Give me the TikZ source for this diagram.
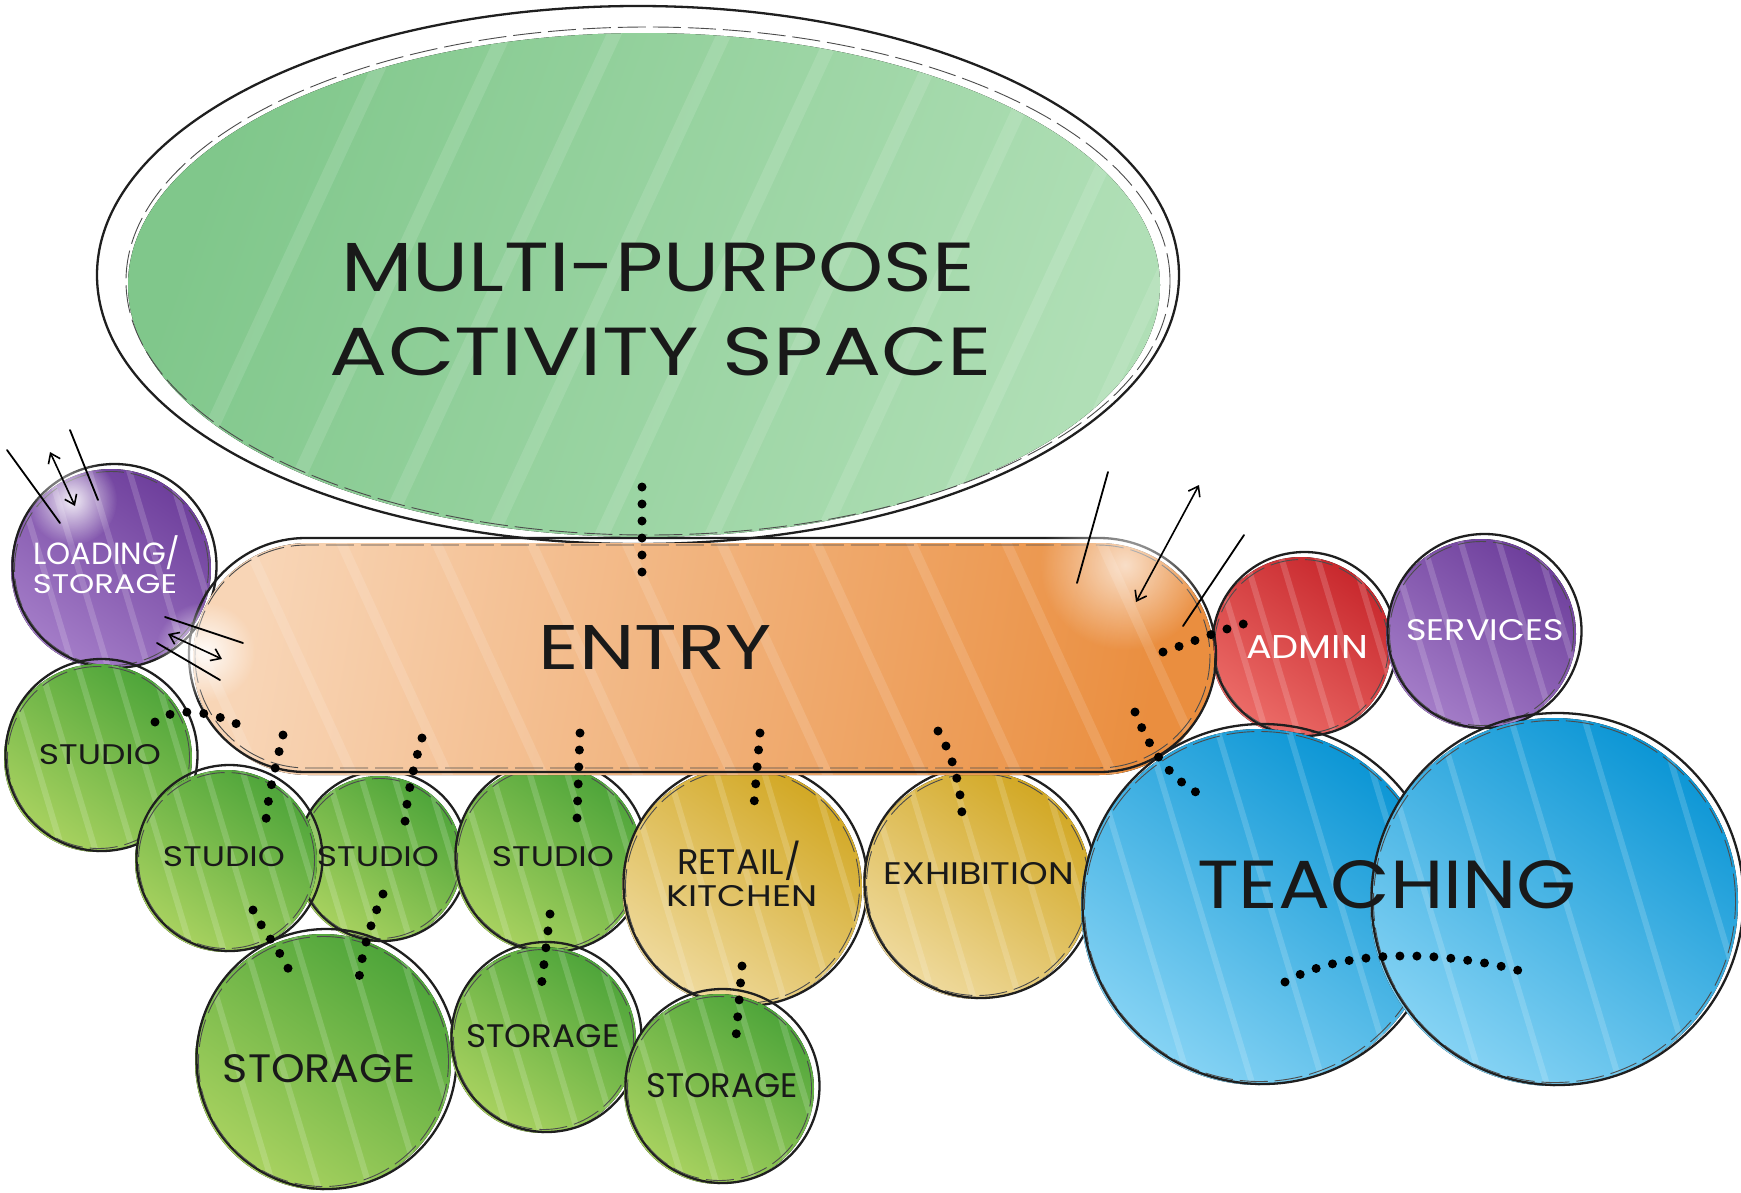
\documentclass[tikz,border=0pt]{standalone}
\usepackage{fontspec}
\setmainfont{Poppins}
\usetikzlibrary{arrows.meta,fadings}
\definecolor{mpA}{HTML}{80C78B}
\definecolor{mpB}{HTML}{B0DFB6}
\definecolor{enA}{HTML}{F8D5B6}
\definecolor{enM}{HTML}{F0A868}
\definecolor{enB}{HTML}{EA8E3F}
\definecolor{puA}{HTML}{6E3F9C}
\definecolor{puB}{HTML}{A47DC8}
\definecolor{grA}{HTML}{4EA53A}
\definecolor{grB}{HTML}{A9D260}
\definecolor{yeA}{HTML}{D2A824}
\definecolor{yeB}{HTML}{EFDA9E}
\definecolor{reA}{HTML}{C8282D}
\definecolor{reB}{HTML}{EC6C68}
\definecolor{blA}{HTML}{0C96D5}
\definecolor{blB}{HTML}{86D3F4}
\tikzfading[name=glowfade, inner color=transparent!0, outer color=transparent!100]
\newcommand\fitw[3]{\resizebox{#1pt}{#2pt}{#3}}
\newcommand\fitwo[2]{\resizebox{#1pt}{!}{#2}}
\newcommand\bub[5]{%
  \fill[top color=#4, bottom color=#5, shading angle=-35] (#1-2,#2+2) circle[radius=#3pt];
  \begin{scope}
    \clip (#1-2,#2+2) circle[radius=#3pt];
    \foreach \k in {-1.1,-0.7,-0.35,0.05,0.45,0.85}
      \draw[white, opacity=0.16, line width=6pt] ({#1+\k*#3-0.3*#3},{#2-#3}) -- ++({0.6*#3},{2*#3});
  \end{scope}
  \draw[sk] (#1+1.5,#2-1) circle[radius=#3pt+2pt];
  \draw[skt] (#1-1.5,#2+1.5) circle[radius=#3pt-3pt];
}
\begin{document}
\begin{tikzpicture}[x=1pt,y=-1pt,
  sk/.style={draw=black!88, line width=2.3pt},
  skt/.style={draw=black!70, line width=0.9pt, dash pattern=on 28pt off 7pt},
  lbl/.style={inner sep=0pt, text=black!90},
  wlbl/.style={inner sep=0pt, text=white},
  dots/.style={draw=black, line width=9pt, line cap=round, dash pattern=on 0pt off 17pt},
  barb/.style={line width=1.6pt, {Straight Barb[length=9pt,width=13pt]}-{Straight Barb[length=9pt,width=13pt]}},
  stroke/.style={line width=1.8pt, line cap=round}]
\useasboundingbox (0,0) rectangle (1741,1192);
\fill[white] (0,0) rectangle (1741,1192);

% multi-purpose ellipse
\fill[left color=mpA, right color=mpB, shading angle=70] (644,285) ellipse[x radius=516pt, y radius=252pt];
\begin{scope}
  \clip (644,285) ellipse[x radius=516pt, y radius=252pt];
  \foreach \k in {0,...,9}
    \draw[white, opacity=0.12, line width=14pt] (150+\k*110,560) -- ++(260,-560);
\end{scope}
\draw[sk] (638,275) ellipse[x radius=541pt, y radius=269pt];
\draw[skt] (648,281) ellipse[x radius=522pt, y radius=254pt];

% admin, services
\bub{1303}{645}{90}{reA}{reB}
\bub{1483}{632}{95}{puA}{puB}
% loading
\bub{113}{567}{100}{puA}{puB}
% studios
\bub{100}{756}{94}{grA}{grB}
\bub{381}{857}{83}{grA}{grB}
\bub{228}{859}{91}{grA}{grB}
\bub{550}{857}{94}{grA}{grB}
\bub{744}{885}{120}{yeA}{yeB}
\bub{979}{883}{114}{yeA}{yeB}
% storages
\bub{325}{1060}{128}{grA}{grB}
\bub{545}{1038}{93}{grA}{grB}
\bub{721}{1087}{95}{grA}{grB}

% entry
\fill[left color=enA, middle color=enM, right color=enB, shading angle=80, rounded corners=115pt] (193,543) rectangle (1214,775);
\begin{scope}
  \clip[rounded corners=115pt] (193,543) rectangle (1214,775);
  \foreach \k in {0,...,11}
    \draw[white, opacity=0.13, line width=10pt] (150+\k*95,540) -- ++(110,240);
\end{scope}
\draw[sk, rounded corners=117pt] (189,538) rectangle (1216,772);
\draw[skt, rounded corners=112pt] (195,545) rectangle (1210,768);

% teaching
\bub{1261}{905}{178}{blA}{blB}
\bub{1556}{900}{184}{blA}{blB}

% glows
\fill[white, path fading=glowfade, opacity=0.9] (72,500) circle[radius=45pt];
\fill[white, path fading=glowfade, opacity=0.9] (205,652) circle[radius=50pt];
\fill[white, path fading=glowfade, opacity=0.7] (1125,565) circle[radius=85pt];

% nodes (labels)
\node[lbl] (mp) at (658,267) {\fitw{633}{49}{MULTI-PURPOSE}};
\node[lbl] (mp2) at (661,352) {\fitw{662}{48}{ACTIVITY SPACE}};
\node[lbl] (entry) at (655,647) {\fitw{233}{44}{ENTRY}};
\node[lbl] (teach) at (1387,885) {\fitw{380}{48}{TEACHING}};
\node[wlbl] (load1) at (107,553) {\fitwo{147}{LOADING/}};
\node[wlbl] (load2) at (105,584) {\fitw{144}{19}{STORAGE}};
\node[wlbl] (admin) at (1307,647) {\fitw{122}{23}{ADMIN}};
\node[wlbl] (serv) at (1485,630) {\fitw{157}{21}{SERVICES}};
\node[lbl] (studio1) at (100,755) {\fitw{122}{20}{STUDIO}};
\node[lbl] (studio2) at (224,857) {\fitw{122}{20}{STUDIO}};
\node[lbl] (studio3) at (378,857) {\fitw{122}{20}{STUDIO}};
\node[lbl] (studio4) at (553,857) {\fitw{122}{20}{STUDIO}};
\node[lbl] (retail1) at (739,861) {\fitwo{124}{RETAIL/}};
\node[lbl] (retail2) at (742,896) {\fitw{151}{21}{KITCHEN}};
\node[lbl] (exhib) at (979,874) {\fitw{190}{22}{EXHIBITION}};
\node[lbl] (stor1) at (319,1069) {\fitw{192}{28}{STORAGE}};
\node[lbl] (stor2) at (543,1036) {\fitw{153}{23}{STORAGE}};
\node[lbl] (stor3) at (722,1086) {\fitw{151}{24}{STORAGE}};

% connector end points
\coordinate (d1a) at (642,487); \coordinate (d1b) at (642,576);
\coordinate (d2a) at (155,722); \coordinate (d2b) at (243,727);
\coordinate (d3a) at (283,735); \coordinate (d3b) at (266,820);
\coordinate (d4a) at (422,738); \coordinate (d4b) at (405,822);
\coordinate (d5a) at (580,733); \coordinate (d5b) at (577,819);
\coordinate (d6a) at (760,733); \coordinate (d6b) at (753,816);
\coordinate (d7a) at (938,731); \coordinate (d7b) at (962,814);
\coordinate (d8a) at (1135,712); \coordinate (d8b) at (1205,797);
\coordinate (d9a) at (1163,652); \coordinate (d9b) at (1247,623);
\coordinate (d10a) at (253,910); \coordinate (d10b) at (294,983);
\coordinate (d11a) at (383,894); \coordinate (d11b) at (359,979);
\coordinate (d12a) at (550,914); \coordinate (d12b) at (540,997);
\coordinate (d13a) at (742,966); \coordinate (d13b) at (735,1049);
\coordinate (d14a) at (1285,982); \coordinate (d14b) at (1528,973);

\draw[dots] (d1a) -- (d1b);
\draw[dots] (d2a) .. controls (175,705) and (215,712) .. (d2b);
\draw[dots] (d3a) .. controls (276,765) and (268,795) .. (d3b);
\draw[dots] (d4a) .. controls (414,765) and (407,795) .. (d4b);
\draw[dots] (d5a) -- (d5b);
\draw[dots] (d6a) -- (d6b);
\draw[dots] (d7a) .. controls (950,750) and (960,780) .. (d7b);
\draw[dots] (d8a) .. controls (1150,750) and (1170,780) .. (d8b);
\draw[dots] (d9a) .. controls (1190,643) and (1220,630) .. (d9b);
\draw[dots] (d10a) .. controls (265,935) and (285,955) .. (d10b);
\draw[dots] (d11a) .. controls (372,920) and (362,950) .. (d11b);
\draw[dots] (d12a) -- (d12b);
\draw[dots] (d13a) -- (d13b);
\draw[dots] (d14a) .. controls (1340,950) and (1440,948) .. (d14b);

% access arrows
\coordinate (a1a) at (7,450);   \coordinate (a1b) at (60,523);
\coordinate (a2a) at (70,430);  \coordinate (a2b) at (98,500);
\coordinate (a3a) at (50,452);  \coordinate (a3b) at (75,506);
\coordinate (a4a) at (165,617); \coordinate (a4b) at (243,643);
\coordinate (a5a) at (157,643); \coordinate (a5b) at (220,680);
\coordinate (a6a) at (168,634); \coordinate (a6b) at (222,659);
\coordinate (a7a) at (1108,472); \coordinate (a7b) at (1077,583);
\coordinate (a8a) at (1199,485); \coordinate (a8b) at (1136,602);
\coordinate (a9a) at (1244,535); \coordinate (a9b) at (1183,626);
\draw[stroke] (a1a) -- (a1b);
\draw[stroke] (a2a) -- (a2b);
\draw[barb] (a3a) -- (a3b);
\draw[stroke] (a4a) -- (a4b);
\draw[stroke] (a5a) -- (a5b);
\draw[barb] (a6a) -- (a6b);
\draw[stroke] (a7a) -- (a7b);
\draw[barb] (a8a) -- (a8b);
\draw[stroke] (a9a) -- (a9b);
\end{tikzpicture}
\end{document}
